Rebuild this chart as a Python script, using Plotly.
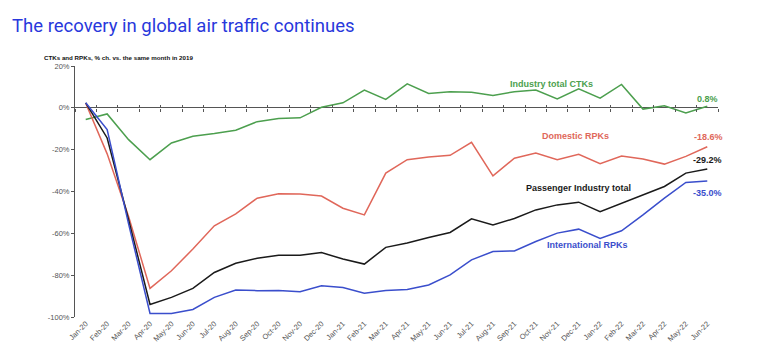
import plotly.graph_objects as go

months = ["Jan-20","Feb-20","Mar-20","Apr-20","May-20","Jun-20","Jul-20","Aug-20","Sep-20","Oct-20",
          "Nov-20","Dec-20","Jan-21","Feb-21","Mar-21","Apr-21","May-21","Jun-21","Jul-21","Aug-21",
          "Sep-21","Oct-21","Nov-21","Dec-21","Jan-22","Feb-22","Mar-22","Apr-22","May-22","Jun-22"]

ctks = [-5.6,-2.9,-15.2,-24.8,-16.8,-13.6,-12.3,-10.7,-6.6,-5.1,
        -4.8,0.3,2.4,8.5,4.0,11.5,6.9,7.7,7.4,5.9,
        7.7,8.5,4.2,9.1,4.6,11.2,-0.6,1.0,-2.4,0.8]
domestic = [2.2,-22.0,-52.0,-86.3,-77.9,-67.5,-56.4,-50.7,-43.2,-41.1,
            -41.2,-42.2,-48.0,-51.2,-31.2,-24.8,-23.5,-22.7,-16.5,-32.5,
            -24.1,-21.6,-24.8,-22.2,-26.7,-23.0,-24.5,-26.9,-23.2,-18.6]
total = [2.4,-14.4,-53.5,-94.0,-90.6,-86.3,-78.7,-74.3,-71.9,-70.5,
         -70.5,-69.2,-72.3,-74.7,-66.7,-64.6,-62.0,-59.6,-53.1,-56.0,
         -52.9,-48.8,-46.4,-45.1,-49.6,-45.6,-41.6,-37.6,-31.2,-29.2]
international = [2.4,-10.4,-55.5,-98.3,-98.3,-96.4,-90.6,-87.1,-87.4,-87.3,
                 -87.9,-85.1,-85.9,-88.6,-87.3,-86.8,-84.7,-79.9,-72.7,-68.7,
                 -68.4,-63.9,-59.9,-58.0,-62.4,-58.8,-51.2,-43.2,-35.7,-35.0]

y_ticks = [20, 0, -20, -40, -60, -80, -100]
y_tick_labels = ["20%", "0%", "-20%", "-40%", "-60%", "-80%", "-100%"]

GREEN = "#4C9F4E"
RED = "#E0675A"
BLACK = "#1A1A1A"
BLUE = "#3A4ECC"
TITLE_BLUE = "#2838DC"

W, H = 764, 362
L, R, T, B = 75, 46, 66, 45
PW, PH = W - L - R, H - T - B

def px(x, y):
    return (x - L) / PW, (H - B - y) / PH

fig = go.Figure()
for name, vals, col in [("Industry total CTKs", ctks, GREEN),
                        ("Domestic RPKs", domestic, RED),
                        ("Passenger Industry total", total, BLACK),
                        ("International RPKs", international, BLUE)]:
    fig.add_trace(go.Scatter(x=months, y=vals, mode="lines", name=name,
                             line=dict(color=col, width=1.5), showlegend=False))

# helper traces on overlay axes for the crossing tick marks at 0%
for ax in ("x2", "x3"):
    fig.add_trace(go.Scatter(x=months, y=[None] * len(months), xaxis=ax,
                             mode="lines", showlegend=False, hoverinfo="skip"))

ymin, ymax = -100, 20
zero_pos = (0 - ymin) / (ymax - ymin)

tickfont = dict(family="Liberation Sans, Arial, sans-serif", size=7.5, color="#555555")

fig.update_layout(
    width=W, height=H,
    margin=dict(l=L, r=R, t=T, b=B),
    paper_bgcolor="white", plot_bgcolor="white",
    xaxis=dict(type="category", categoryorder="array", categoryarray=months,
               range=[-0.5, len(months) - 0.5], showline=False, showgrid=False,
               zeroline=False, ticks="", tickangle=-45, tickfont=tickfont),
    xaxis2=dict(type="category", categoryorder="array", categoryarray=months,
                overlaying="x", matches="x", anchor="free", position=zero_pos,
                showline=False, showgrid=False, zeroline=False,
                ticks="outside", ticklen=3, tickwidth=1, tickcolor="#555555",
                tickson="boundaries", showticklabels=False),
    xaxis3=dict(type="category", categoryorder="array", categoryarray=months,
                overlaying="x", matches="x", anchor="free", position=zero_pos,
                showline=False, showgrid=False, zeroline=False,
                ticks="inside", ticklen=3, tickwidth=1, tickcolor="#555555",
                tickson="boundaries", showticklabels=False),
    yaxis=dict(range=[ymin, ymax], tickmode="array", tickvals=y_ticks, ticktext=y_tick_labels,
               showline=True, linecolor="#555555", linewidth=1,
               ticks="outside", ticklen=3, tickcolor="#555555",
               showgrid=False, zeroline=True, zerolinecolor="#555555", zerolinewidth=1,
               tickfont=tickfont),
    title=dict(text="The recovery in global air traffic continues",
               font=dict(family="Roboto, Liberation Sans, sans-serif", size=18.5, color=TITLE_BLUE),
               xref="container", yref="container", x=12 / W, y=1 - 26 / H,
               xanchor="left", yanchor="middle"),
    font=dict(family="Liberation Sans, Arial, sans-serif"),
)

def label(text, x, y, color, anchor="center", size=9, family="Liberation Sans, Arial, sans-serif"):
    xp, yp = px(x, y)
    fig.add_annotation(text="<b>" + text + "</b>", x=xp, y=yp, xref="paper", yref="paper",
                       xanchor=anchor, yanchor="middle", showarrow=False,
                       font=dict(family=family, size=size, color=color))

label("CTKs and RPKs, % ch. vs. the same month in 2019", 42, 57, "#111111", anchor="left", size=6.2)
label("Industry total CTKs", 551, 84, GREEN)
label("0.8%", 720, 99, GREEN, anchor="right")
label("Domestic RPKs", 575, 136, RED)
label("-18.6%", 725, 137, RED, anchor="right")
label("-29.2%", 724, 160, BLACK, anchor="right")
label("Passenger Industry total", 578, 188, BLACK)
label("-35.0%", 724, 193, BLUE, anchor="right")
label("International RPKs", 587, 245, BLUE)

fig.write_html("out.html", config={"displayModeBar": False},
               post_script="document.body.style.margin='0';")
